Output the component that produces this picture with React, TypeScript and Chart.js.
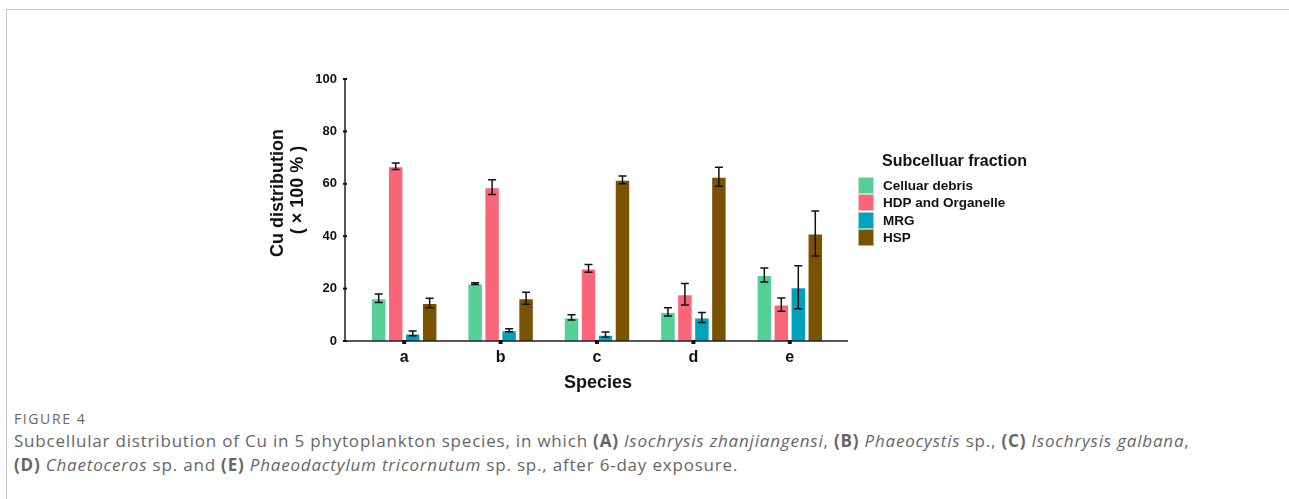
import React, { useEffect, useRef } from 'react';
import { Chart, registerables } from 'chart.js';

Chart.register(...registerables);

const categories = ['a', 'b', 'c', 'd', 'e'];
const seriesNames = ['Celluar debris', 'HDP and Organelle', 'MRG', 'HSP'];
const celluarDebris = [16.3, 21.9, 9.0, 11.1, 25.2];
const celluarDebrisErr = [1.6, 0.3, 1.0, 1.6, 2.7];
const hdpOrganelle = [66.7, 58.7, 27.7, 17.8, 13.9];
const hdpOrganelleErr = [1.2, 2.8, 1.5, 4.1, 2.5];
const mrg = [2.9, 4.1, 2.4, 9.0, 20.5];
const mrgErr = [0.9, 0.6, 1.0, 1.9, 8.2];
const hsp = [14.5, 16.3, 61.5, 62.7, 41.0];
const hspErr = [1.8, 2.3, 1.5, 3.6, 8.6];
const yTicks = [0, 20, 40, 60, 80, 100];
const seriesColors = ['#55cf98', '#f96677', '#00a3bb', '#7a5204'];

const seriesValues = [celluarDebris, hdpOrganelle, mrg, hsp];
const seriesErrors = [celluarDebrisErr, hdpOrganelleErr, mrgErr, hspErr];

const FONT = '"Liberation Sans", Arial, Helvetica, sans-serif';

const customPlugin = {
  id: 'custom',
  afterDatasetsDraw(chart: any) {
    const ctx = chart.ctx as CanvasRenderingContext2D;
    const area = chart.chartArea;
    const ys = chart.scales.y;
    const xs = chart.scales.x;
    ctx.save();
    // error bars
    ctx.strokeStyle = '#111';
    ctx.lineWidth = 1.5;
    seriesErrors.forEach((errs, di) => {
      const meta = chart.getDatasetMeta(di);
      meta.data.forEach((el: any, i: number) => {
        const v = seriesValues[di][i];
        const e = errs[i];
        const yHi = ys.getPixelForValue(v + e);
        const yLo = ys.getPixelForValue(v - e);
        const x = el.x;
        ctx.beginPath();
        ctx.moveTo(x, yHi);
        ctx.lineTo(x, yLo);
        ctx.moveTo(x - 4, yHi);
        ctx.lineTo(x + 4, yHi);
        ctx.moveTo(x - 4, yLo);
        ctx.lineTo(x + 4, yLo);
        ctx.stroke();
      });
    });

    // axes
    const axisX = area.left - 11;
    const axisRight = area.right + 10;
    const y0 = ys.getPixelForValue(0);
    const yTop = ys.getPixelForValue(100);
    ctx.strokeStyle = '#222';
    ctx.lineWidth = 1.5;
    ctx.beginPath();
    ctx.moveTo(axisX, yTop - 1);
    ctx.lineTo(axisX, y0);
    ctx.moveTo(axisX, y0);
    ctx.lineTo(axisRight, y0);
    ctx.stroke();
    ctx.fillStyle = '#111';
    yTicks.forEach((t) => {
      const y = ys.getPixelForValue(t);
      ctx.fillRect(axisX - 2, y - 1, 4, 2);
    });
    categories.forEach((_, i) => {
      const x = xs.getPixelForValue(i);
      ctx.fillRect(x - 2, y0 - 1, 4, 4);
    });

    // y title
    ctx.fillStyle = '#111';
    ctx.font = `bold 18px ${FONT}`;
    ctx.textAlign = 'center';
    ctx.textBaseline = 'middle';
    const cy = 193;
    ctx.save();
    ctx.translate(278, cy);
    ctx.rotate(-Math.PI / 2);
    ctx.fillText('Cu distribution', 0, 0);
    ctx.restore();
    ctx.save();
    ctx.translate(298, cy - 3);
    ctx.rotate(-Math.PI / 2);
    ctx.fillText('( \u00d7 100 % )', 0, 0);
    ctx.restore();

    // x title
    ctx.font = `bold 18px ${FONT}`;
    ctx.textBaseline = 'alphabetic';
    ctx.fillText('Species', (area.left + area.right) / 2 + 1, 388);

    // legend
    ctx.textAlign = 'left';
    ctx.font = `bold 16px ${FONT}`;
    ctx.fillText('Subcelluar fraction', 882, 166);
    ctx.font = `bold 13.5px ${FONT}`;
    const boxTops = [177, 194, 212, 229];
    const boxH = [17, 17, 17, 17];
    seriesNames.forEach((name, i) => {
      ctx.fillStyle = seriesColors[i];
      ctx.fillRect(858, boxTops[i], 16, boxH[i]);
      ctx.strokeStyle = 'rgba(255,255,255,0.55)';
      ctx.lineWidth = 1;
      ctx.strokeRect(858.5, boxTops[i] + 0.5, 15, boxH[i] - 1);
      ctx.fillStyle = '#111';
      ctx.fillText(name, 883, boxTops[i] + 13);
    });
    ctx.restore();
  },
};

export default function App() {
  const ref = useRef<HTMLCanvasElement | null>(null);
  useEffect(() => {
    if (!ref.current) return;
    const chart = new Chart(ref.current, {
      type: 'bar',
      data: {
        labels: categories,
        datasets: seriesNames.map((name, i) => ({
          label: name,
          data: seriesValues[i],
          backgroundColor: seriesColors[i],
          borderColor: 'rgba(255,255,255,0.55)',
          borderWidth: 1,
          categoryPercentage: 0.705,
          barPercentage: 0.91,
        })),
      },
      options: {
        responsive: false,
        animation: false,
        devicePixelRatio: 1,
        layout: { padding: { left: 0, right: 451, top: 79, bottom: 0 } },
        plugins: { legend: { display: false }, tooltip: { enabled: false } },
        scales: {
          x: {
            type: 'category',
            offset: true,
            grid: { display: false, drawTicks: false, tickLength: 0 },
            border: { display: false },
            ticks: { font: { family: FONT, size: 16, weight: 'bold' }, color: '#111', padding: 7 },
            afterFit: (s: any) => { s.height = 59; },
          },
          y: {
            min: 0,
            max: 100,
            grid: { display: false, drawTicks: false, tickLength: 0 },
            border: { display: false },
            ticks: {
              stepSize: 20,
              font: { family: FONT, size: 13, weight: 'bold' },
              color: '#111',
              padding: 19,
            },
            afterFit: (s: any) => { s.width = 356; },
          },
        },
      },
      plugins: [customPlugin],
    });
    return () => chart.destroy();
  }, []);

  return (
    <div style={{ position: 'absolute', left: 0, top: 0, width: 1289, height: 499, background: '#fff', overflow: 'hidden' }}>
      <div style={{ position: 'absolute', left: 6, top: 9, width: 1300, height: 520, borderTop: '1px solid #c8c8c8', borderLeft: '1px solid #c8c8c8' }} />
      <canvas ref={ref} width={1289} height={400} style={{ position: 'absolute', left: 0, top: 0, width: 1289, height: 400 }} />
      <div style={{ position: 'absolute', left: 14, top: 409, fontFamily: '"Open Sans", sans-serif', color: '#666', whiteSpace: 'nowrap' }}>
        <div style={{ fontSize: 14, lineHeight: '20px', letterSpacing: '1.6px' }}>FIGURE 4</div>
        <div style={{ fontSize: 17, lineHeight: '24px', letterSpacing: '0.8px' }}>
          Subcellular distribution of Cu in 5 phytoplankton species, in which <b>(A)</b> <i>Isochrysis zhanjiangensi</i>, <b>(B)</b> <i>Phaeocystis</i> sp., <b>(C)</b> <i>Isochrysis galbana</i>,
          <br />
          <b>(D)</b> <i>Chaetoceros</i> sp. and <b>(E)</b> <i>Phaeodactylum tricornutum</i> sp. sp., after 6-day exposure.
        </div>
      </div>
    </div>
  );
}
